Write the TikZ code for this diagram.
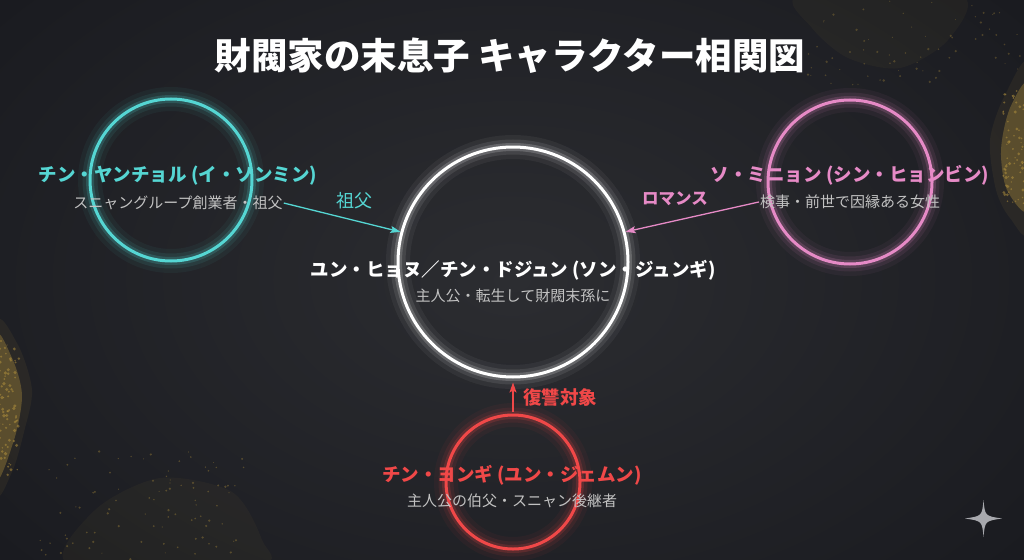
\documentclass[tikz,border=0pt]{standalone}
\usepackage{fontspec}
\setmainfont{Noto Sans CJK JP}
\usetikzlibrary{arrows.meta}
\definecolor{bgmid}{HTML}{2C2D31}
\definecolor{bgedge}{HTML}{1A1B20}
\definecolor{gold}{HTML}{B8963E}
\definecolor{tealc}{HTML}{55D6D3}
\definecolor{pinkc}{HTML}{E68AC6}
\definecolor{redc}{HTML}{F04848}
\definecolor{rolegray}{HTML}{C2C2C2}
\definecolor{sparkc}{HTML}{A8A9AE}
\tikzset{
	ring/.style={circle, draw=#1, line width=3pt, inner sep=0pt,
		preaction={draw=#1, line width=24pt, draw opacity=0.05},
		preaction={draw=#1, line width=15pt, draw opacity=0.09},
		preaction={draw=#1, line width=8pt, draw opacity=0.18}},
	who/.style={font=\bfseries\fontsize{18.5}{20}\selectfont, text=#1, inner sep=1pt},
	role/.style={font=\fontsize{15}{17}\selectfont, text=rolegray, inner sep=1pt},
	rel/.style={font=\fontsize{18}{20}\selectfont, text=#1},
	link/.style={draw=#1, line width=1.3pt, -{Stealth[length=10pt, width=7pt, inset=2pt]}},
}
\begin{document}
\begin{tikzpicture}[x=1pt, y=-1pt]
	\useasboundingbox (0,0) rectangle (1024,559);
	\shade[inner color=bgmid, outer color=bgedge] (-150,-150) rectangle (1174,709);

	\begin{scope}[gold]
		\fill[opacity=.05] plot[smooth cycle] coordinates {(800,-5) (960,-5) (948,40) (900,68) (848,58) (812,28)};
		\fill[opacity=.08] plot[smooth cycle] coordinates {(1030,65) (1005,95) (990,140) (996,190) (1010,218) (1030,228)};
		\fill[opacity=.35] plot[smooth cycle] coordinates {(1030,85) (1010,108) (1001,150) (1007,190) (1030,208)};
		\fill[opacity=.08] plot[smooth cycle] coordinates {(-5,325) (18,345) (32,390) (24,432) (12,472) (-5,490)};
		\fill[opacity=.35] plot[smooth cycle] coordinates {(-5,338) (12,358) (22,395) (14,440) (-5,478)};
		\fill[opacity=.05] plot[smooth cycle] coordinates {(70,565) (95,510) (160,478) (232,492) (262,540) (258,565)};
		\pgfmathsetseed{7}
		\foreach \i in {1,...,80}
			\fill[opacity=.5] ({1003+25*rnd},{90+115*rnd}) circle ({.6+1.2*rnd});
		\foreach \i in {1,...,80}
			\fill[opacity=.5] ({-3+22*rnd},{340+135*rnd}) circle ({.6+1.2*rnd});
		\foreach \i in {1,...,90}
			\fill[opacity=.35] ({40+210*rnd},{450+110*rnd}) circle ({.5+.8*rnd});
		\foreach \i in {1,...,70}
			\fill[opacity=.3] ({800+220*rnd},{85*rnd}) circle ({.5+.8*rnd});
	\end{scope}

	\node[font=\bfseries\fontsize{36.5}{40}\selectfont, text=white] (title) at (510,56) {財閥家の末息子 キャラクター相関図};

	\node[ring=white, minimum size=230pt] (hero) at (513,262) {};
	\node[ring=tealc, minimum size=162pt] (grandpa) at (171,180) {};
	\node[ring=pinkc, minimum size=164pt] (heroine) at (850,182) {};
	\node[ring=redc, minimum size=134pt] (uncle) at (513,482) {};

	\node[who=white] (heroname) at (513,270) {ユン・ヒョヌ／チン・ドジュン (ソン・ジュンギ)};
	\node[role] (herorole) at (513,296) {主人公・転生して財閥末孫に};
	\node[who=tealc] (grandpaname) at (178,176) {チン・ヤンチョル (イ・ソンミン)};
	\node[role] (grandparole) at (178,203) {スニャングループ創業者・祖父};
	\node[who=pinkc] (heroinename) at (850,175) {ソ・ミニョン (シン・ヒョンビン)};
	\node[role] (heroinerole) at (850,202) {検事・前世で因縁ある女性};
	\node[who=redc] (unclename) at (512,475) {チン・ヨンギ (ユン・ジェムン)};
	\node[role] (unclerole) at (512,501) {主人公の伯父・スニャン後継者};

	\draw[link=tealc] (grandparole.east) -- (hero.165);
	\draw[link=pinkc] (heroinerole.west) -- (hero.15);
	\draw[link=redc, shorten <=2pt, shorten >=4pt] (uncle.north) -- (hero.south);

	\node[rel=tealc] (grandparel) at (354,201) {祖父};
	\node[rel=pinkc, font=\bfseries\fontsize{16.5}{18}\selectfont] (heroinerel) at (675,199) {ロマンス};
	\node[rel=redc, font=\bfseries\fontsize{18.5}{20}\selectfont] (unclerel) at (560,397) {復讐対象};

	\fill[sparkc] (983.5,500) .. controls (985,516) .. (1002,518.5) .. controls (985,521) .. (983.5,537) .. controls (982,521) .. (965,518.5) .. controls (982,516) .. (983.5,500);
\end{tikzpicture}
\end{document}
